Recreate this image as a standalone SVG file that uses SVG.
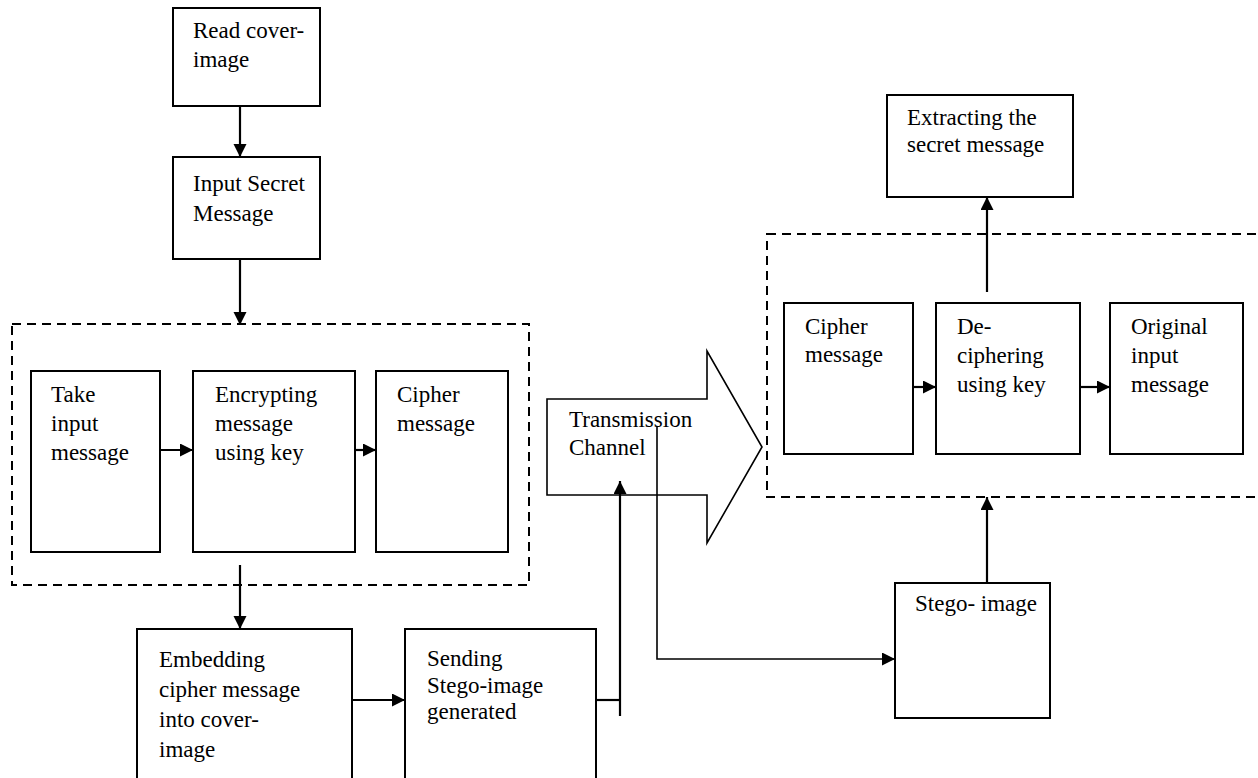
<svg xmlns="http://www.w3.org/2000/svg" width="1258" height="778" viewBox="0 0 1258 778">
<defs>
<marker id="ah" markerWidth="14" markerHeight="14" refX="13" refY="6.5" orient="auto" markerUnits="userSpaceOnUse">
<path d="M0,0 L13,6.5 L0,13 Z" fill="#000"/>
</marker>
<style>
.box{fill:#fff;stroke:#000;stroke-width:2}
.dash{fill:none;stroke:#000;stroke-width:2;stroke-dasharray:9,6}
.conn{fill:none;stroke:#000;stroke-width:2.2}
.thin{fill:none;stroke:#000;stroke-width:1.6}
text{font-family:"Liberation Serif","Times New Roman",serif;font-size:23px;fill:#000}
</style>
</defs>
<rect width="1258" height="778" fill="#fff"/>

<g id="group-left">
<rect class="dash" x="12" y="324" width="517" height="261"/>
</g>
<g id="group-right">
<rect class="dash" x="767" y="234" width="510" height="263"/>
</g>

<g id="transmission">
<polygon class="thin" fill="#fff" points="547,399 707,399 707,351 762,447 707,543 707,495 547,495"/>
<text x="569" y="427">Transmission</text>
<text x="569" y="455">Channel</text>
</g>

<g id="read-cover">
<rect class="box" x="173" y="8" width="147" height="98"/>
<text x="193" y="38">Read cover-</text>
<text x="193" y="67">image</text>
</g>
<g id="input-secret">
<rect class="box" x="173" y="157" width="147" height="102"/>
<text x="193" y="191">Input Secret</text>
<text x="193" y="221">Message</text>
</g>
<g id="take-input">
<rect class="box" x="31" y="371" width="129" height="181"/>
<text x="51" y="402">Take</text>
<text x="51" y="431">input</text>
<text x="51" y="460">message</text>
</g>
<g id="encrypting">
<rect class="box" x="193" y="371" width="162" height="181"/>
<text x="215" y="402">Encrypting</text>
<text x="215" y="431">message</text>
<text x="215" y="460">using key</text>
</g>
<g id="cipher-left">
<rect class="box" x="376" y="371" width="132" height="181"/>
<text x="397" y="402">Cipher</text>
<text x="397" y="431">message</text>
</g>
<g id="embedding">
<rect class="box" x="137" y="629" width="215" height="160"/>
<text x="159" y="667">Embedding</text>
<text x="159" y="697">cipher message</text>
<text x="159" y="727">into cover-</text>
<text x="159" y="757">image</text>
</g>
<g id="sending">
<rect class="box" x="405" y="629" width="191" height="160"/>
<text x="427" y="666">Sending</text>
<text x="427" y="693">Stego-image</text>
<text x="427" y="719">generated</text>
</g>
<g id="stego">
<rect class="box" x="895" y="583" width="155" height="135"/>
<text x="915" y="611">Stego- image</text>
</g>
<g id="cipher-right">
<rect class="box" x="784" y="303" width="129" height="151"/>
<text x="805" y="334">Cipher</text>
<text x="805" y="362">message</text>
</g>
<g id="deciphering">
<rect class="box" x="936" y="303" width="144" height="151"/>
<text x="957" y="334">De-</text>
<text x="957" y="363">ciphering</text>
<text x="957" y="392">using key</text>
</g>
<g id="original">
<rect class="box" x="1110" y="303" width="133" height="151"/>
<text x="1131" y="334">Original</text>
<text x="1131" y="363">input</text>
<text x="1131" y="392">message</text>
</g>
<g id="extracting">
<rect class="box" x="887" y="95" width="186" height="102"/>
<text x="907" y="125">Extracting the</text>
<text x="907" y="152">secret message</text>
</g>

<g id="connectors">
<line class="conn" x1="240" y1="106" x2="240" y2="157" marker-end="url(#ah)"/>
<line class="conn" x1="240" y1="259" x2="240" y2="325" marker-end="url(#ah)"/>
<line class="conn" x1="160" y1="450" x2="193" y2="450" marker-end="url(#ah)"/>
<line class="conn" x1="355" y1="450" x2="376" y2="450" marker-end="url(#ah)"/>
<line class="conn" x1="240" y1="565" x2="240" y2="629" marker-end="url(#ah)"/>
<line class="conn" x1="352" y1="700" x2="405" y2="700" marker-end="url(#ah)"/>
<polyline class="conn" points="596,700 620,700"/>
<line class="conn" x1="620" y1="716" x2="620" y2="481" marker-end="url(#ah)"/>
<polyline class="thin" points="657,426 657,659 895,659" marker-end="url(#ah)"/>
<line class="conn" x1="987" y1="583" x2="987" y2="497" marker-end="url(#ah)"/>
<line class="conn" x1="913" y1="387" x2="936" y2="387" marker-end="url(#ah)"/>
<line class="conn" x1="1080" y1="387" x2="1110" y2="387" marker-end="url(#ah)"/>
<line class="conn" x1="987" y1="292" x2="987" y2="197" marker-end="url(#ah)"/>
</g>
</svg>
